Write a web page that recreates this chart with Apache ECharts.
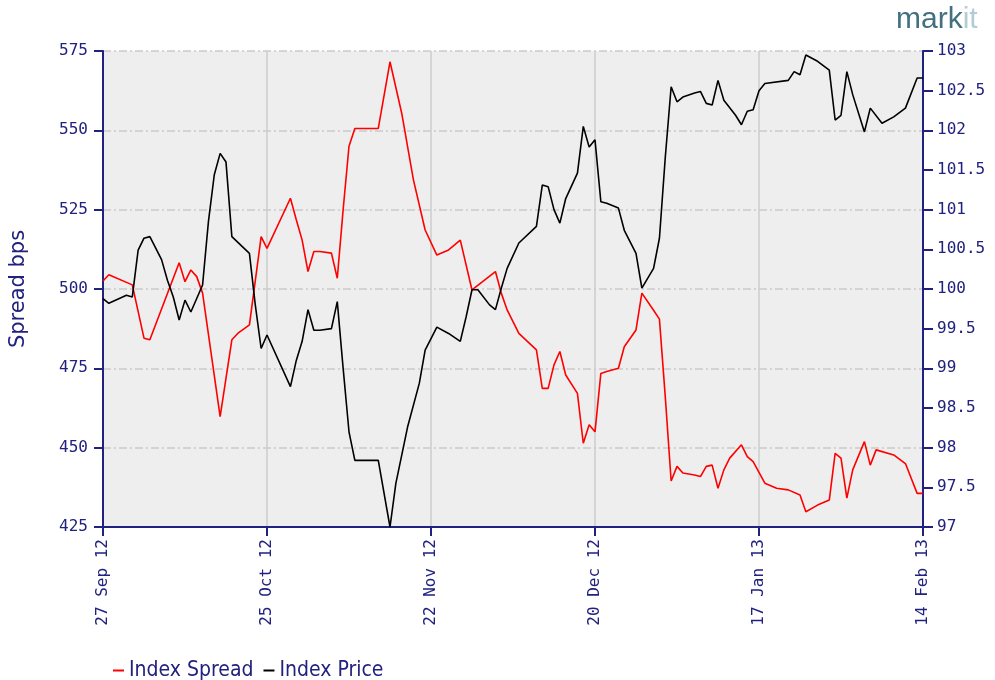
<!DOCTYPE html>
<html>
<head>
<meta charset="utf-8">
<title>Index Spread / Index Price</title>
<script src="https://cdn.jsdelivr.net/npm/echarts@6/dist/echarts.min.js"></script>
<style>
  html, body { margin: 0; padding: 0; background: #fff; }
  #chart { width: 995px; height: 680px; }
</style>
</head>
<body>
<div id="chart"></div>
<script>
// x values are days counted from 27 Sep 12
var tickLabels = ['27 Sep 12', '25 Oct 12', '22 Nov 12', '20 Dec 12', '17 Jan 13', '14 Feb 13'];

var spreadDay = [0, 1, 5, 7, 8, 13, 14, 15, 16, 17, 20, 22, 23, 25, 27, 28, 32, 33, 34, 35,
  36, 37, 39, 40, 41, 42, 43, 47, 49, 51, 53, 55, 57, 59, 61, 63, 67, 68, 69, 71,
  74, 75, 76, 77, 78, 79, 81, 82, 83, 84, 85, 86, 88, 89, 91, 92, 94, 95, 96, 97,
  98, 99, 101, 102, 103, 104, 105, 106, 107, 109, 110, 111, 113, 115, 117, 119, 120, 122, 124, 125,
  126, 127, 128, 130, 131, 132, 135, 137, 139, 140];
var spreadBps = [502.5, 504.5, 501.3, 484.5, 484, 508.3, 502.3, 506, 503.9, 498.7, 459.8, 484, 486, 488.7, 516.5, 512.8, 528.6, 521.8, 515.4, 505.5,
  511.8, 511.8, 511.3, 503.4, 525, 545, 550.6, 550.6, 571.6, 555.4, 534.4, 518.6, 510.7, 512.3, 515.4, 499.7, 505.5, 498.7, 493.4, 486,
  480.8, 468.7, 468.7, 476.1, 480.3, 472.9, 467.1, 451.4, 457.2, 455, 473.4, 474, 475, 481.8, 487.1, 498.7, 493.3, 490.5, 466, 439.5,
  444.1, 442, 441.4, 440.9, 444.1, 444.5, 437.2, 443, 446.7, 450.9, 447.2, 445.6, 438.8, 437.2, 436.7, 435.1, 429.8, 431.9, 433.5, 448.2,
  446.7, 434.1, 443, 451.9, 444.5, 449.3, 447.7, 445, 435.6, 435.6];

var priceDay = [0, 1, 4, 5, 6, 7, 8, 10, 11, 12, 13, 14, 15, 17, 18, 19, 20, 21, 22, 25,
  26, 27, 28, 32, 33, 34, 35, 36, 37, 39, 40, 41, 42, 43, 47, 49, 50, 52, 54, 55,
  57, 59, 61, 62, 63, 64, 66, 67, 68, 69, 71, 74, 75, 76, 77, 78, 79, 81, 82, 83,
  84, 85, 86, 88, 89, 91, 92, 94, 95, 96, 97, 98, 99, 101, 102, 103, 104, 105, 106, 108,
  109, 110, 111, 112, 113, 117, 118, 119, 120, 122, 124, 125, 126, 127, 128, 130, 131, 133, 135, 137,
  139, 140];
var priceVal = [99.88, 99.82, 99.92, 99.90, 100.49, 100.64, 100.66, 100.37, 100.11, 99.90, 99.61, 99.86, 99.71, 100.05, 100.85, 101.44, 101.71, 101.6, 100.66, 100.45,
  99.8, 99.25, 99.42, 98.77, 99.1, 99.34, 99.74, 99.48, 99.48, 99.5, 99.84, 99.0, 98.2, 97.84, 97.84, 97.0, 97.55, 98.26, 98.81, 99.23,
  99.52, 99.44, 99.34, 99.65, 99.99, 99.99, 99.8, 99.74, 100.01, 100.26, 100.58, 100.79, 101.31, 101.29, 101.0, 100.83, 101.14, 101.46, 102.05, 101.79,
  101.88, 101.1, 101.08, 101.02, 100.74, 100.45, 100.01, 100.26, 100.64, 101.66, 102.55, 102.36, 102.42, 102.47, 102.49, 102.34, 102.32, 102.63, 102.38, 102.19,
  102.07, 102.24, 102.26, 102.5, 102.59, 102.63, 102.74, 102.7, 102.95, 102.87, 102.76, 102.13, 102.19, 102.74, 102.45, 101.98, 102.28, 102.09, 102.17, 102.28,
  102.66, 102.66];

var navy = '#21217f';
var tickFont = { color: navy, fontFamily: 'DejaVu Sans Mono', fontSize: 16 };

function pairs(xs, ys) {
  return xs.map(function (x, i) { return [x, ys[i]]; });
}

var chart = echarts.init(document.getElementById('chart'));
chart.setOption({
  animation: false,
  backgroundColor: '#ffffff',
  grid: {
    left: 102, right: 72, top: 51, bottom: 153,
    show: true, backgroundColor: '#eeeeee', borderWidth: 0
  },
  legend: {
    data: ['Index Spread', 'Index Price'],
    left: 108, top: 655,
    icon: 'rect', itemWidth: 11, itemHeight: 2, itemGap: 10,
    textStyle: { color: navy, fontSize: 21, fontFamily: 'Liberation Sans Narrow, DejaVu Sans Condensed, sans-serif' }
  },
  graphic: [{
    type: 'text', left: 896, top: 5,
    style: {
      text: '{a|mark}{b|it}',
      rich: {
        a: { fill: '#42707f', fontSize: 30, fontFamily: 'Liberation Sans' },
        b: { fill: '#b3cdd6', fontSize: 30, fontFamily: 'Liberation Sans' }
      }
    }
  }],
  xAxis: {
    type: 'value', min: 0, max: 140, interval: 28,
    axisLine: { onZero: false, lineStyle: { color: navy, width: 2 } },
    axisTick: { show: true, length: 9, lineStyle: { color: navy, width: 2 } },
    axisLabel: Object.assign({
      rotate: 90, margin: 12,
      formatter: function (v) { return tickLabels[Math.round(v / 28)]; }
    }, tickFont),
    splitLine: { show: true, lineStyle: { color: '#cccccc', width: 1.5 } }
  },
  yAxis: [{
    type: 'value', position: 'left', min: 425, max: 575, interval: 25,
    name: 'Spread bps', nameLocation: 'middle', nameGap: 74,
    nameTextStyle: { color: navy, fontSize: 21, fontFamily: 'DejaVu Sans' },
    axisLine: { show: true, onZero: false, lineStyle: { color: navy, width: 2 } },
    axisTick: { show: true, length: 9, lineStyle: { color: navy, width: 2 } },
    axisLabel: Object.assign({ margin: 15 }, tickFont),
    splitLine: { show: true, lineStyle: { color: '#cacaca', width: 1.5, type: [8, 3, 2, 3] } }
  }, {
    type: 'value', position: 'right', min: 97, max: 103, interval: 0.5,
    axisLine: { show: true, onZero: false, lineStyle: { color: navy, width: 2 } },
    axisTick: { show: true, length: 10, lineStyle: { color: navy, width: 2 } },
    axisLabel: Object.assign({ margin: 14 }, tickFont),
    splitLine: { show: false }
  }],
  series: [{
    name: 'Index Spread', type: 'line', yAxisIndex: 0,
    data: pairs(spreadDay, spreadBps),
    showSymbol: false, color: '#ff0000',
    lineStyle: { color: '#ff0000', width: 1.6 }
  }, {
    name: 'Index Price', type: 'line', yAxisIndex: 1,
    data: pairs(priceDay, priceVal),
    showSymbol: false, color: '#000000',
    lineStyle: { color: '#000000', width: 1.6 }
  }]
});
</script>
</body>
</html>
